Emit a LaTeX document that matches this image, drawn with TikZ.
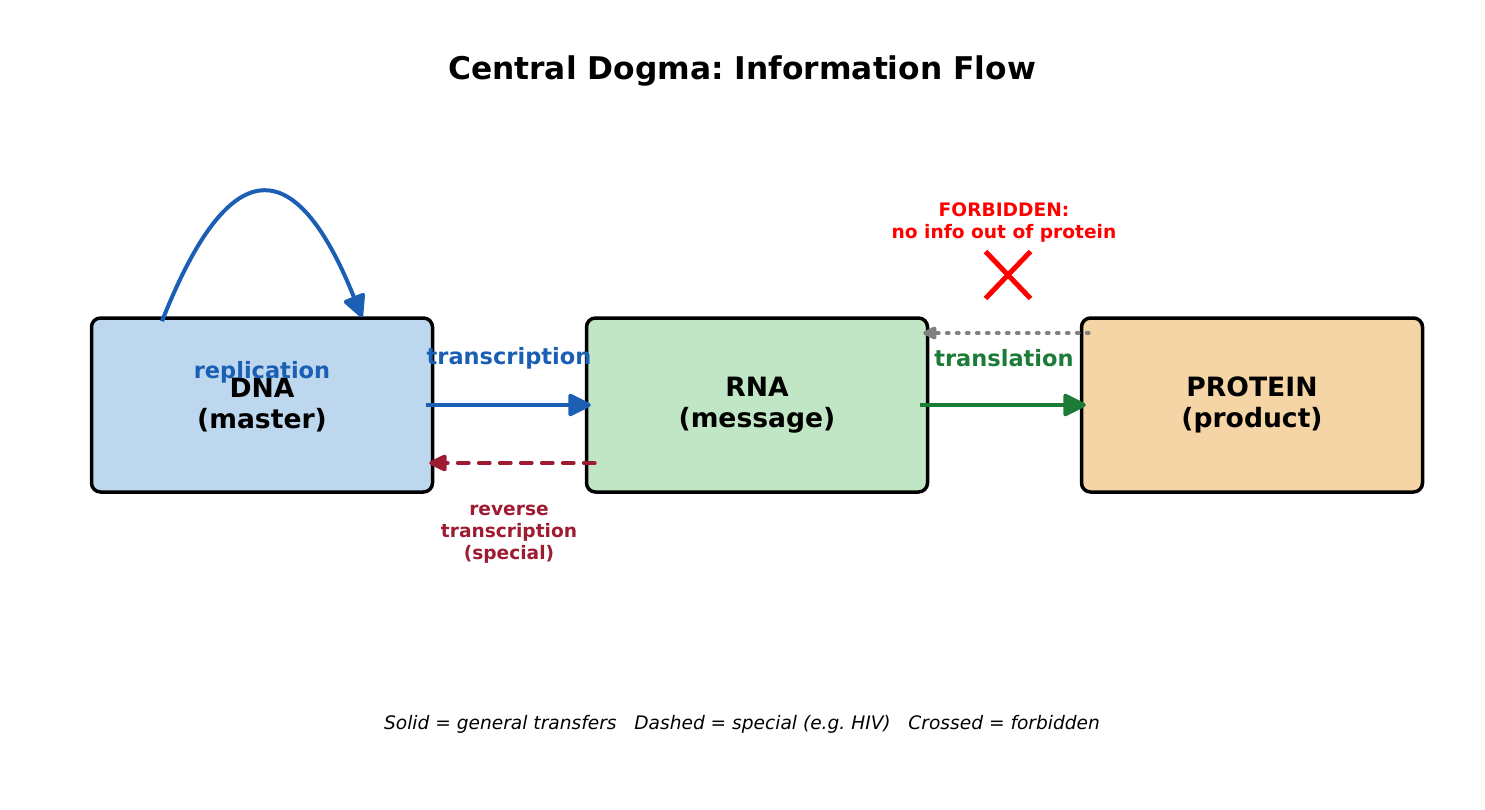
\documentclass[tikz,border=0pt]{standalone}
\usepackage{fontspec}
\setmainfont{DejaVu Sans}
\frenchspacing
\usetikzlibrary{arrows.meta,positioning,shapes.misc}

\definecolor{dnafill}{HTML}{BDD7EE}
\definecolor{rnafill}{HTML}{C0E6C5}
\definecolor{protfill}{HTML}{F5D5A5}
\definecolor{flowblue}{HTML}{1A5FB4}
\definecolor{flowgreen}{HTML}{1B7B37}
\definecolor{revred}{HTML}{9E1B32}

\tikzset{
  molbox/.style={draw=black, line width=3.5pt, rounded corners=9pt,
    minimum width=341pt, minimum height=174pt, align=center,
    font=\bfseries\fontsize{26.6}{31}\selectfont},
  flow/.style={line width=4pt, -{Triangle[length=25pt,width=24pt,round]}},
  thinflow/.style={line width=3.8pt, -{Triangle[length=20pt,width=18pt,round]}},
  flowlabel/.style={inner sep=0pt, font=\bfseries\fontsize{22.5}{27}\selectfont},
  notelabel/.style={inner sep=0pt, align=center, font=\bfseries\fontsize{18.6}{22}\selectfont}
}

\begin{document}
\begin{tikzpicture}[x=1pt,y=-1pt]
    \useasboundingbox (0,0) rectangle (1485,810);

    % title
    \node[inner sep=0pt, font=\bfseries\fontsize{31.3}{37}\selectfont] (title) at (742,71) {Central Dogma: Information Flow};

    % the three molecules
    \node[molbox, fill=dnafill] (dna) at (262,405) {DNA\\(master)};
    \node[molbox, fill=rnafill] (rna) at (757,405) {RNA\\(message)};
    \node[molbox, fill=protfill] (prot) at (1252,405) {PROTEIN\\(product)};

    % replication loop on top of DNA
    \coordinate (repA) at ([shift={(-100,5)}]dna.north);
    \coordinate (repB) at ([shift={(100,1)}]dna.north);
    \draw[flow, flowblue] (repA) .. controls ([shift={(-33,-165)}]dna.north) and ([shift={(33,-166)}]dna.north) .. (repB);
    \node[flowlabel, text=flowblue] (replab) at (262,372) {replication};

    % general transfers
    \draw[flow, flowblue] ([xshift=-8pt]dna.east) -- ([xshift=6pt]rna.west);
    \node[flowlabel, text=flowblue] (translab) at (509,358) {transcription};
    \draw[flow, flowgreen] ([xshift=-9pt]rna.east) -- ([xshift=6pt]prot.west);
    \node[flowlabel, text=flowgreen] (tllab) at (1004,358) {translation};

    % special transfer
    \draw[thinflow, revred, line cap=round, dash pattern=on 11pt off 10pt] ([shift={(10,58)}]rna.west) -- ([shift={(-5,58)}]dna.east);
    \node[notelabel, text=revred] (revlab) at (509,534) {reverse\\transcription\\(special)};

    % forbidden transfer
    \draw[thinflow, gray, line cap=round, dash pattern=on 2pt off 8pt, -{Triangle[length=16pt,width=14pt,round]}] ([shift={(9,-72)}]prot.west) -- ([shift={(-6,-72)}]rna.east);
    \node[cross out, draw=red, line width=5pt, minimum width=40pt, minimum height=42pt, inner sep=0pt] (cross) at (1008,275) {};
    \node[notelabel, text=red] (forblab) at (1004,223) {FORBIDDEN:\\no info out of protein};

    % legend
    \node[inner sep=0pt, font=\itshape\fontsize{18.6}{22}\selectfont] (legend) at (742,724) {Solid = general transfers\ \ \ Dashed = special (e.g. HIV)\ \ \ Crossed = forbidden};
\end{tikzpicture}
\end{document}
